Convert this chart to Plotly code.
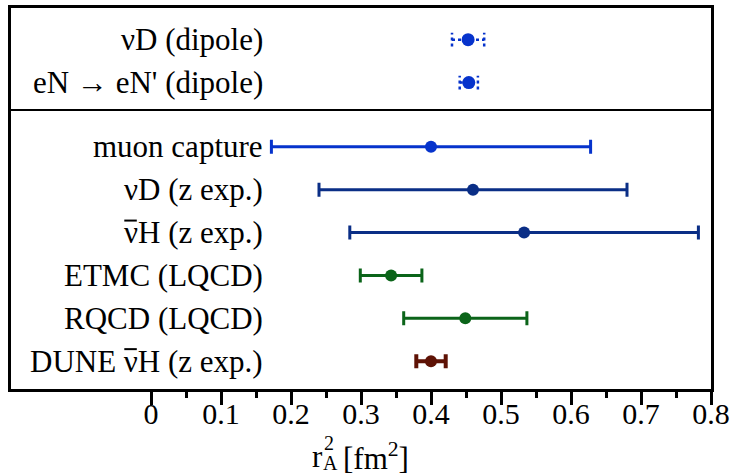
import plotly.graph_objects as go

# ---- data ----
labels = ["\u03bdD (dipole)", "eN \u2192 eN' (dipole)", "muon capture", "\u03bdD (z exp.)",
          "\u03bdH (z exp.)", "ETMC (LQCD)", "RQCD (LQCD)", "DUNE \u03bdH (z exp.)"]
antineutrino = [False, False, False, False, True, False, False, True]
values = [0.453, 0.454, 0.400, 0.460, 0.533, 0.343, 0.449, 0.400]
errors = [0.023, 0.013, 0.228, 0.220, 0.249, 0.044, 0.088, 0.021]
panel = ["top", "top", "main", "main", "main", "main", "main", "main"]
colors = ["#0633CC", "#0633CC", "#0633CC", "#0A2E86", "#0A2E86", "#0B6419", "#0B6419", "#5E1205"]
xticks = [0, 0.1, 0.2, 0.3, 0.4, 0.5, 0.6, 0.7, 0.8]

# row positions (top to bottom), with an extra half-row gap between panels
n = len(labels)
ypos = []
y = 0.0
for i in range(n - 1, -1, -1):
    ypos.insert(0, y)
    if i > 0 and panel[i - 1] != panel[i]:
        y += 1.5
    else:
        y += 1.0
divider_y = ypos[panel.index("main")] + 0.86

FONT = "Liberation Serif, Times New Roman, serif"
LSIZE = 31
LABEL_X = 0.163
fig = go.Figure()

# Times metrics (em) of the text following the nu in "H (z exp.)"
TAIL_EM = 0.722 + 0.25 + 0.333 + 0.444 + 0.25 + 0.444 + 0.5 + 0.5 + 0.25 + 0.333
NU_EM = 0.5

cap_h = 0.16
for i in range(n):
    v, e, yy, c = values[i], errors[i], ypos[i], colors[i]
    if panel[i] == "top":
        fig.add_trace(go.Scatter(x=[v - e, v + e], y=[yy, yy], mode="lines",
                                 line=dict(color=c, width=2.5, dash="dot"),
                                 showlegend=False, hoverinfo="skip"))
        for xc in (v - e, v + e):
            fig.add_trace(go.Scatter(x=[xc, xc], y=[yy - cap_h, yy + cap_h], mode="lines",
                                     line=dict(color=c, width=2.5, dash="dot"),
                                     showlegend=False, hoverinfo="skip"))
        fig.add_trace(go.Scatter(x=[v], y=[yy], mode="markers",
                                 marker=dict(color=c, size=13), showlegend=False))
    else:
        thick = 4 if i == n - 1 else 3
        fig.add_trace(go.Scatter(x=[v], y=[yy], mode="markers",
                                 marker=dict(color=c, size=12),
                                 error_x=dict(type="data", array=[e], color=c,
                                              thickness=thick, width=7),
                                 showlegend=False))
    fig.add_annotation(x=LABEL_X, y=yy, xref="x", yref="y", text=labels[i],
                       showarrow=False, xanchor="right", yanchor="middle",
                       font=dict(family=FONT, size=LSIZE, color="black"))
    if antineutrino[i]:
        right = -(TAIL_EM * LSIZE + 2.5)
        left = right - NU_EM * LSIZE
        fig.add_shape(type="line", xref="x", xsizemode="pixel", xanchor=LABEL_X,
                      x0=left + 2, x1=right - 1,
                      yref="y", ysizemode="pixel", yanchor=yy, y0=12, y1=12,
                      line=dict(color="black", width=2))

fig.add_shape(type="line", xref="paper", yref="y", x0=0, x1=1,
              y0=divider_y, y1=divider_y, line=dict(color="black", width=2))

# axis title r_A^2 [fm^2] with stacked sub/superscript
def px(xp):
    return (xp - 11) / 703.0

def py(yp):
    return (389 - yp) / 384.0

tfont = dict(family=FONT, size=31, color="black")
sfont = dict(family=FONT, size=20, color="black")
fig.add_annotation(x=px(325), y=py(457), xref="paper", yref="paper", text="r",
                   showarrow=False, xanchor="right", yanchor="middle", font=tfont,
                   borderpad=0)
fig.add_annotation(x=px(324), y=py(443), xref="paper", yref="paper", text="2",
                   showarrow=False, xanchor="left", yanchor="middle", font=sfont,
                   borderpad=0)
fig.add_annotation(x=px(323), y=py(464), xref="paper", yref="paper", text="A",
                   showarrow=False, xanchor="left", yanchor="middle", font=sfont,
                   borderpad=0)
fig.add_annotation(x=px(343), y=py(457), xref="paper", yref="paper",
                   text="[fm<sup>2</sup>]",
                   showarrow=False, xanchor="left", yanchor="middle", font=tfont,
                   borderpad=0)

fig.update_xaxes(range=[-0.2, 0.8], tickmode="array", tickvals=xticks,
                 ticktext=[f"{t:g}" for t in xticks],
                 ticks="outside", ticklen=13, tickwidth=2.5, tickcolor="black",
                 ticklabelstandoff=-17,
                 minor=dict(tickmode="array",
                            tickvals=[t + 0.05 for t in xticks[:-1]],
                            ticks="outside", ticklen=6, tickwidth=2.5, tickcolor="black"),
                 showline=True, linewidth=3, linecolor="black", mirror=True,
                 showgrid=False, zeroline=False,
                 tickfont=dict(family=FONT, size=30, color="black"))
fig.update_yaxes(range=[-0.65, 8.24], showticklabels=False, ticks="",
                 showline=True, linewidth=3, linecolor="black", mirror=True,
                 showgrid=False, zeroline=False)

fig.update_layout(width=735, height=476, margin=dict(l=11, r=21, t=5, b=87),
                  plot_bgcolor="white", paper_bgcolor="white")

fig.write_html("out.html")
